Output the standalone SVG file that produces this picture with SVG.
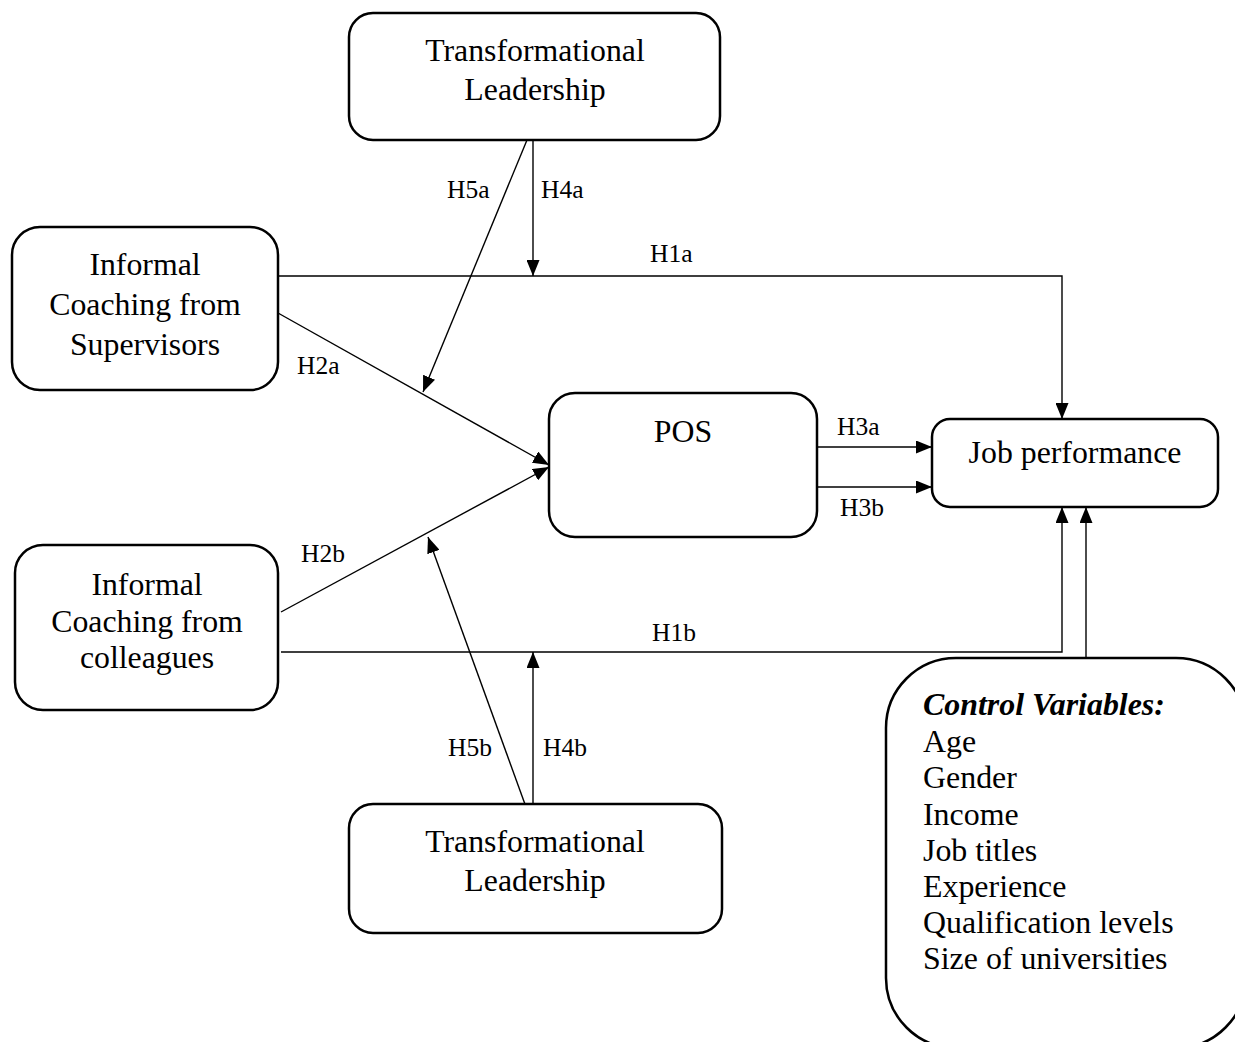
<svg xmlns="http://www.w3.org/2000/svg" width="1235" height="1042" viewBox="0 0 1235 1042">
<defs>
<marker id="ah" viewBox="0 0 16 13" refX="16" refY="6.5" markerWidth="16" markerHeight="13" markerUnits="userSpaceOnUse" orient="auto">
<path d="M0,0 L16,6.5 L0,13 z" fill="#000"/>
</marker>
<style>
.box{fill:#fff;stroke:#000;stroke-width:2.5}
.t{font-family:"Liberation Serif","Times New Roman",serif;font-size:31.8px;fill:#000;text-anchor:middle}
.l{font-family:"Liberation Serif","Times New Roman",serif;font-size:25.5px;fill:#000}
.c{font-family:"Liberation Serif","Times New Roman",serif;font-size:31.9px;fill:#000}
.e{fill:none;stroke:#000;stroke-width:1.4;marker-end:url(#ah)}
</style>
</defs>
<rect width="1235" height="1042" fill="#fff"/>
<g id="connectors">
<path class="e" d="M278,276 H1062 V419"/>
<path class="e" d="M533,140 V276"/>
<path class="e" d="M527,140 L423,392"/>
<path class="e" d="M278,313 L549,465"/>
<path class="e" d="M281,612 L549,467"/>
<path class="e" d="M526,807 L428,537"/>
<path class="e" d="M533,807 V652"/>
<path class="e" d="M281,652 H1062 V507"/>
<path class="e" d="M817,447 H932"/>
<path class="e" d="M817,487 H932"/>
<path class="e" d="M1086,658 V507"/>
<text class="l" x="447" y="198">H5a</text>
<text class="l" x="541" y="198">H4a</text>
<text class="l" x="650" y="262">H1a</text>
<text class="l" x="297" y="374">H2a</text>
<text class="l" x="301" y="562">H2b</text>
<text class="l" x="837" y="435">H3a</text>
<text class="l" x="840" y="516">H3b</text>
<text class="l" x="652" y="641">H1b</text>
<text class="l" x="448" y="756">H5b</text>
<text class="l" x="543" y="756">H4b</text>
</g>
<g id="tl-top">
<rect class="box" x="349" y="13" width="371" height="127" rx="24"/>
<text class="t" x="535" y="61">Transformational</text>
<text class="t" x="535" y="100">Leadership</text>
</g>
<g id="ics">
<rect class="box" x="12" y="227" width="266" height="163" rx="28"/>
<text class="t" x="145" y="275">Informal</text>
<text class="t" x="145" y="315">Coaching from</text>
<text class="t" x="145" y="355">Supervisors</text>
</g>
<g id="icc">
<rect class="box" x="15" y="545" width="263" height="165" rx="28"/>
<text class="t" x="147" y="595">Informal</text>
<text class="t" x="147" y="632">Coaching from</text>
<text class="t" x="147" y="668">colleagues</text>
</g>
<g id="pos">
<rect class="box" x="549" y="393" width="268" height="144" rx="26"/>
<text class="t" x="683" y="442">POS</text>
</g>
<g id="jp">
<rect class="box" x="932" y="419" width="286" height="88" rx="18"/>
<text class="t" x="1075" y="463">Job performance</text>
</g>
<g id="tl-bottom">
<rect class="box" x="349" y="804" width="373" height="129" rx="24"/>
<text class="t" x="535" y="852">Transformational</text>
<text class="t" x="535" y="891">Leadership</text>
</g>
<g id="controls">
<rect class="box" x="886" y="658" width="360" height="390" rx="70"/>
<text class="c" x="923" y="715" font-weight="bold" font-style="italic">Control Variables:</text>
<text class="c" x="923" y="752">Age</text>
<text class="c" x="923" y="788">Gender</text>
<text class="c" x="923" y="825">Income</text>
<text class="c" x="923" y="861">Job titles</text>
<text class="c" x="923" y="897">Experience</text>
<text class="c" x="923" y="933">Qualification levels</text>
<text class="c" x="923" y="969">Size of universities</text>
</g>
</svg>
